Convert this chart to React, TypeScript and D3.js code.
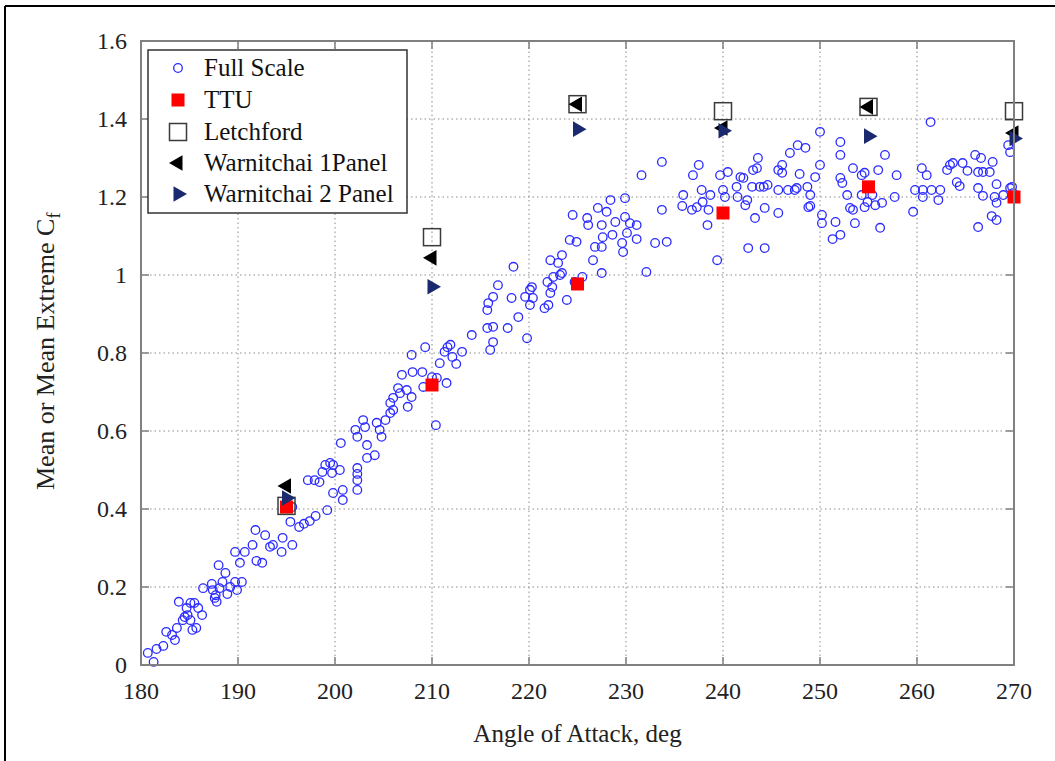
import React from "react";
import * as d3 from "d3";

const xTicks = [180, 190, 200, 210, 220, 230, 240, 250, 260, 270];
const yTicks = [0, 0.2, 0.4, 0.6, 0.8, 1, 1.2, 1.4, 1.6];
const yTickLabels = ["0", "0.2", "0.4", "0.6", "0.8", "1", "1.2", "1.4", "1.6"];

const modelAngles = [195, 210, 225, 240, 255, 270];
const ttuCf = [0.405, 0.718, 0.977, 1.159, 1.226, 1.2];
const letchfordCf = [0.408, 1.097, 1.438, 1.42, 1.431, 1.42];
const warnitchai1Cf = [0.459, 1.044, 1.438, 1.377, 1.431, 1.364];
const warnitchai2Cf = [0.428, 0.97, 1.374, 1.37, 1.356, 1.35];

const fullScale: [number, number][] = [
  [180.7, 0.031], [181.3, 0.008], [181.6, 0.041], [182.3, 0.049], [182.6, 0.085], [183.2, 0.077],
  [183.5, 0.064], [183.7, 0.095], [183.9, 0.162], [184.3, 0.115], [184.5, 0.123], [184.8, 0.128],
  [185.1, 0.115], [185.3, 0.09], [185.7, 0.095], [185.1, 0.159], [185.5, 0.159], [184.7, 0.146],
  [185.9, 0.146], [186.3, 0.128], [186.4, 0.197], [187.3, 0.208], [187.4, 0.192], [187.7, 0.179],
  [187.8, 0.162], [187.6, 0.172], [188.1, 0.197], [188.4, 0.213], [188.7, 0.236], [188.0, 0.256],
  [188.9, 0.182], [189.2, 0.2], [189.7, 0.213], [189.9, 0.192], [190.4, 0.213], [190.2, 0.262],
  [189.7, 0.29], [190.7, 0.29], [191.5, 0.308], [191.8, 0.346], [192.8, 0.333], [191.9, 0.267],
  [192.5, 0.262], [193.3, 0.303], [193.6, 0.308], [194.6, 0.326], [194.5, 0.29], [195.6, 0.308],
  [195.4, 0.367], [196.3, 0.354], [196.8, 0.362], [197.4, 0.369], [198.0, 0.382], [199.2, 0.397],
  [199.8, 0.441], [195.6, 0.405], [197.2, 0.474], [197.9, 0.474], [198.4, 0.469], [198.7, 0.495],
  [199.0, 0.513], [199.5, 0.518], [199.8, 0.513], [199.7, 0.492], [200.5, 0.5], [200.8, 0.449],
  [200.8, 0.423], [200.6, 0.569], [202.3, 0.505], [202.3, 0.49], [202.3, 0.474], [202.3, 0.449],
  [203.3, 0.531], [204.1, 0.538], [203.3, 0.564], [202.1, 0.603], [202.3, 0.585], [203.1, 0.61],
  [202.9, 0.628], [204.3, 0.621], [204.8, 0.585], [204.6, 0.603], [205.2, 0.628], [205.7, 0.646],
  [206.0, 0.654], [205.7, 0.672], [207.5, 0.662], [206.0, 0.685], [206.7, 0.697], [207.9, 0.687],
  [207.4, 0.705], [206.5, 0.71], [206.9, 0.744], [208.0, 0.751], [209.0, 0.751], [209.1, 0.713],
  [210.0, 0.738], [210.5, 0.736], [207.9, 0.795], [209.3, 0.815], [210.4, 0.615], [210.8, 0.774],
  [211.3, 0.803], [211.6, 0.815], [212.1, 0.79], [212.5, 0.772], [211.9, 0.821], [213.1, 0.803],
  [211.5, 0.723], [214.1, 0.846], [215.7, 0.864], [216.3, 0.867], [216.3, 0.828], [216.0, 0.808],
  [215.7, 0.91], [215.8, 0.928], [216.3, 0.944], [216.8, 0.974], [217.8, 0.864], [218.2, 0.941],
  [218.4, 1.021], [218.9, 0.892], [219.8, 0.838], [219.6, 0.944], [220.1, 0.962], [220.3, 0.969],
  [220.4, 0.941], [220.1, 0.923], [221.6, 0.915], [222.0, 0.923], [222.2, 0.954], [222.4, 0.969],
  [221.9, 0.982], [222.5, 0.995], [222.2, 1.038], [223.0, 1.031], [223.4, 1.051], [223.2, 1.0],
  [223.9, 0.936], [224.2, 1.09], [224.9, 1.085], [224.5, 1.154], [223.4, 1.005], [224.7, 0.982],
  [225.5, 0.995], [226.0, 1.146], [226.1, 1.128], [226.6, 1.038], [226.8, 1.072], [227.5, 1.072],
  [227.6, 1.097], [227.5, 1.128], [227.1, 1.172], [228.0, 1.162], [228.4, 1.192], [228.6, 1.103],
  [228.9, 1.136], [227.5, 1.005], [229.6, 1.082], [229.7, 1.059], [229.9, 1.197], [229.9, 1.149],
  [230.1, 1.108], [230.4, 1.133], [231.1, 1.128], [231.1, 1.092], [231.6, 1.256], [232.1, 1.008],
  [233.0, 1.082], [233.7, 1.167], [233.7, 1.29], [234.2, 1.085], [235.8, 1.177], [235.9, 1.205],
  [236.8, 1.167], [236.9, 1.256], [237.3, 1.174], [237.5, 1.282], [237.8, 1.218], [237.9, 1.187],
  [238.4, 1.128], [238.5, 1.167], [238.7, 1.205], [239.4, 1.038], [239.7, 1.256], [240.0, 1.218],
  [240.2, 1.2], [240.5, 1.264], [241.4, 1.226], [241.5, 1.2], [241.8, 1.251], [242.1, 1.249],
  [242.3, 1.179], [242.5, 1.192], [242.6, 1.069], [243.0, 1.226], [243.1, 1.269], [243.3, 1.146],
  [243.5, 1.274], [243.6, 1.3], [243.8, 1.226], [244.2, 1.226], [244.3, 1.172], [244.3, 1.069],
  [244.6, 1.231], [245.7, 1.269], [245.7, 1.218], [245.7, 1.159], [246.1, 1.282], [246.1, 1.262],
  [246.7, 1.218], [246.9, 1.313], [247.4, 1.218], [247.6, 1.223], [247.7, 1.333], [247.9, 1.259],
  [248.5, 1.326], [248.7, 1.226], [248.8, 1.174], [249.0, 1.205], [249.0, 1.177], [250.0, 1.367],
  [252.1, 1.341], [252.1, 1.308], [250.0, 1.282], [249.5, 1.251], [250.2, 1.154], [250.2, 1.133],
  [251.6, 1.136], [251.3, 1.092], [252.1, 1.103], [252.1, 1.249], [252.3, 1.236], [252.8, 1.205],
  [253.1, 1.172], [253.4, 1.167], [253.4, 1.274], [253.6, 1.133], [254.3, 1.256], [254.6, 1.262],
  [254.3, 1.205], [254.6, 1.174], [254.9, 1.187], [255.4, 1.205], [255.7, 1.179], [256.0, 1.269],
  [256.4, 1.185], [256.2, 1.121], [256.7, 1.308], [257.7, 1.2], [257.9, 1.256], [259.6, 1.162],
  [259.8, 1.218], [260.5, 1.274], [260.6, 1.218], [260.6, 1.2], [261.0, 1.256], [261.4, 1.392],
  [261.5, 1.218], [262.2, 1.192], [262.4, 1.218], [263.1, 1.269], [263.4, 1.282], [263.7, 1.287],
  [264.1, 1.238], [264.4, 1.228], [264.7, 1.287], [265.2, 1.267], [266.0, 1.308], [266.3, 1.264],
  [266.3, 1.223], [266.3, 1.123], [266.6, 1.3], [266.8, 1.264], [266.8, 1.203], [267.5, 1.264],
  [267.7, 1.151], [267.8, 1.29], [268.0, 1.2], [268.2, 1.233], [268.2, 1.185], [268.2, 1.141],
  [268.9, 1.205], [269.4, 1.333], [269.6, 1.223], [269.6, 1.315], [269.8, 1.226], [269.9, 1.21],
];

const legendItems = ["Full Scale", "TTU", "Letchford", "Warnitchai 1Panel", "Warnitchai 2 Panel"];

const FONT = "Liberation Serif, DejaVu Serif, serif";
const AXIS_COLOR = "#808080";
const BLUE = "#2a2aff";
const NAVY = "#1b2a6e";

const triPath = d3.symbol(d3.symbolTriangle, 105)() as string;

export default function App() {
  const x = d3.scaleLinear().domain([180, 270]).range([141, 1014]);
  const y = d3.scaleLinear().domain([0, 1.6]).range([665, 41]);
  const [x0, x1] = x.range();
  const [y0, y1] = y.range();
  const tickLen = 8;
  const txt = { fontFamily: FONT };

  const circle = (cx: number, cy: number, key: string | number) => (
    <circle key={key} cx={cx} cy={cy} r={4.3} fill="none" stroke={BLUE} strokeWidth={1.3} />
  );
  const ttu = (cx: number, cy: number, key: string | number) => (
    <rect key={key} x={cx - 6.5} y={cy - 6.5} width={13} height={13} fill="#ff0000" />
  );
  const letch = (cx: number, cy: number, key: string | number) => (
    <rect key={key} x={cx - 8.5} y={cy - 8.5} width={17} height={17} fill="none" stroke="#3a3a3a" strokeWidth={1.5} />
  );
  const w1 = (cx: number, cy: number, key: string | number) => (
    <path key={key} d={triPath} transform={`translate(${cx},${cy}) rotate(-90)`} fill="#000" />
  );
  const w2 = (cx: number, cy: number, key: string | number) => (
    <path key={key} d={triPath} transform={`translate(${cx},${cy}) rotate(90)`} fill={NAVY} />
  );
  const legendMarkers = [circle, ttu, letch, w1, w2];

  const legX = 148, legY = 50, legW = 259, legH = 163;
  const rowY = [68, 100, 132, 163, 194];

  return (
    <svg width={1055} height={761} style={{ position: "absolute", left: 0, top: 0, background: "#fff" }}>
      <rect x={0} y={0} width={1055} height={761} fill="#fff" />
      {/* outer frame */}
      <line x1={5} y1={6} x2={1055} y2={6} stroke="#000" strokeWidth={2} />
      <line x1={5} y1={6} x2={5} y2={761} stroke="#000" strokeWidth={2} />

      {/* grid */}
      {xTicks.filter((t) => t > 180 && t < 270).map((t) => (
        <line key={"gx" + t} x1={x(t)} x2={x(t)} y1={y0} y2={y1} stroke="#8a8a8a" strokeWidth={1} strokeDasharray="1.5,3" />
      ))}
      {yTicks.filter((t) => t > 0 && t < 1.6).map((t) => (
        <line key={"gy" + t} x1={x0} x2={x1} y1={y(t)} y2={y(t)} stroke="#8a8a8a" strokeWidth={1} strokeDasharray="1.5,3" />
      ))}

      {/* ticks */}
      {xTicks.map((t) => (
        <g key={"tx" + t}>
          <line x1={x(t)} x2={x(t)} y1={y0} y2={y0 - tickLen} stroke={AXIS_COLOR} strokeWidth={1.5} />
          <line x1={x(t)} x2={x(t)} y1={y1} y2={y1 + tickLen} stroke={AXIS_COLOR} strokeWidth={1.5} />
        </g>
      ))}
      {yTicks.map((t) => (
        <g key={"ty" + t}>
          <line x1={x0} x2={x0 + tickLen} y1={y(t)} y2={y(t)} stroke={AXIS_COLOR} strokeWidth={1.5} />
          <line x1={x1} x2={x1 - tickLen} y1={y(t)} y2={y(t)} stroke={AXIS_COLOR} strokeWidth={1.5} />
        </g>
      ))}

      {/* data */}
      {fullScale.map((d, i) => circle(x(d[0]), y(d[1]), "fs" + i))}
      {modelAngles.map((a, i) => ttu(x(a), y(ttuCf[i]), "ttu" + i))}
      {modelAngles.map((a, i) => letch(x(a), y(letchfordCf[i]), "le" + i))}
      {modelAngles.map((a, i) => w1(x(a), y(warnitchai1Cf[i]), "w1" + i))}
      {modelAngles.map((a, i) => w2(x(a), y(warnitchai2Cf[i]), "w2" + i))}

      {/* axes frame */}
      <rect x={x0} y={y1} width={x1 - x0} height={y0 - y1} fill="none" stroke={AXIS_COLOR} strokeWidth={2} />

      {/* legend */}
      <rect x={legX} y={legY} width={legW} height={legH} fill="#fff" stroke="#333" strokeWidth={1.5} />
      {legendItems.map((name, i) => (
        <g key={"lg" + i}>
          {legendMarkers[i](178, rowY[i], "lm" + i)}
          <text x={204} y={rowY[i] + 8} style={txt} fontSize={25} fill="#111">{name}</text>
        </g>
      ))}

      {/* tick labels */}
      {xTicks.map((t) => (
        <text key={"lx" + t} x={x(t)} y={699} textAnchor="middle" style={txt} fontSize={24} fill="#222">{t}</text>
      ))}
      {yTicks.map((t, i) => (
        <text key={"ly" + t} x={127} y={y(t) + 8} textAnchor="end" style={txt} fontSize={24} fill="#222">{yTickLabels[i]}</text>
      ))}

      {/* axis titles */}
      <text x={(x0 + x1) / 2} y={742} textAnchor="middle" style={txt} fontSize={25} fill="#222">Angle of Attack, deg</text>
      <text transform={`translate(54,490) rotate(-90)`} textAnchor="start" style={txt} fontSize={26} fill="#222">
        Mean or Mean Extreme C<tspan fontSize={18} dy={6}>f</tspan>
      </text>
    </svg>
  );
}
